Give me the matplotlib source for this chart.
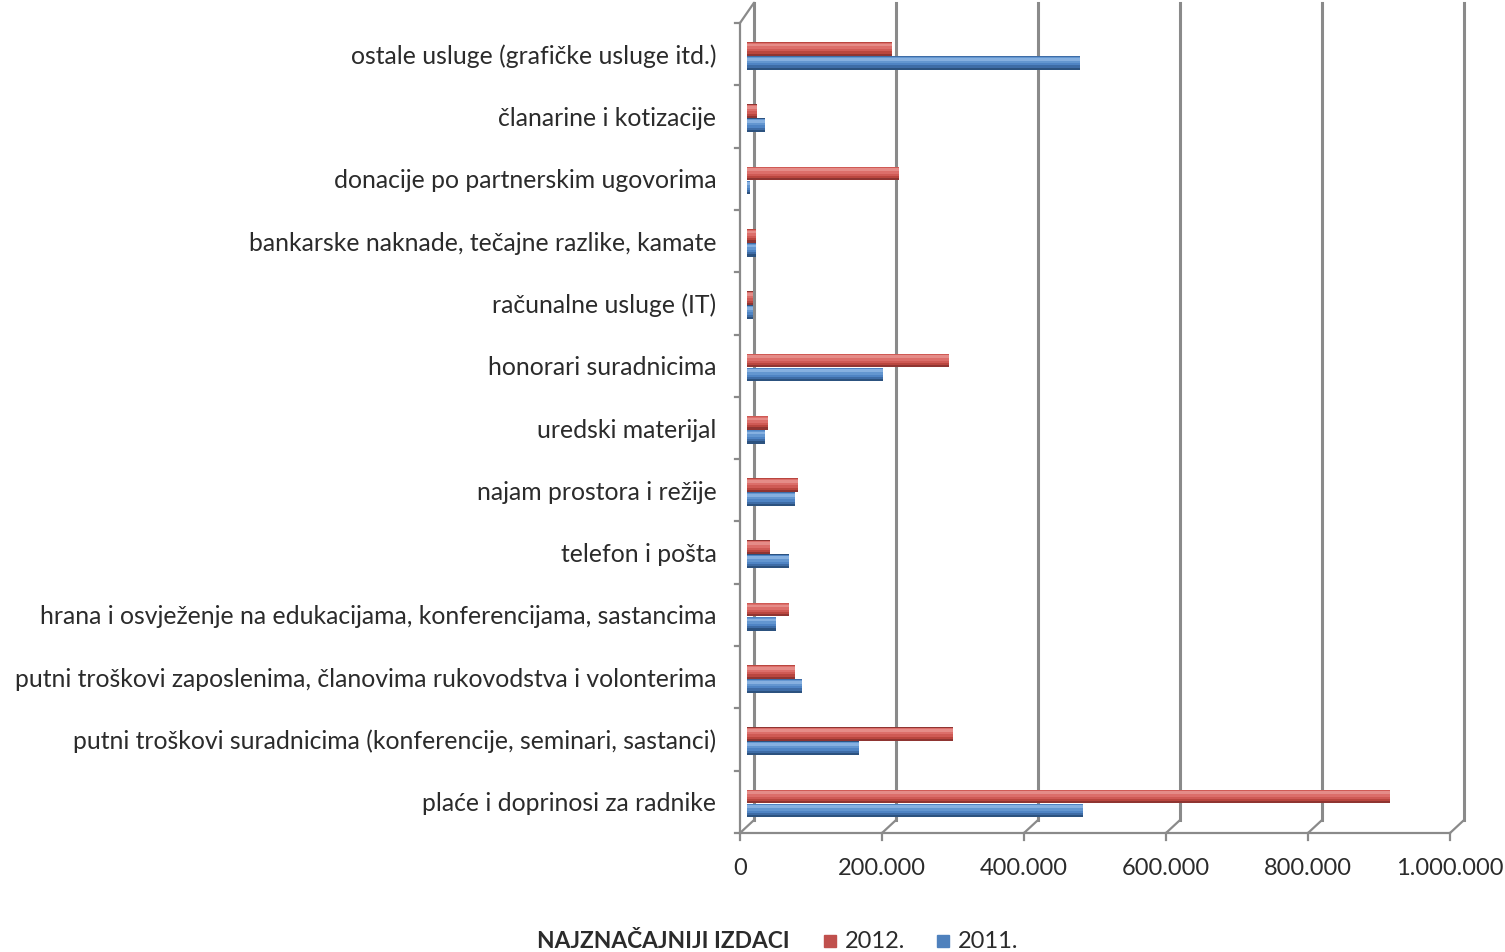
import matplotlib
matplotlib.use("Agg")
import matplotlib.pyplot as plt
import matplotlib.transforms as mtransforms

plt.rcParams['font.family'] = ['Lato', 'DejaVu Sans']

# categories listed top to bottom
categories = [
    "ostale usluge (grafičke usluge itd.)",
    "članarine i kotizacije",
    "donacije po partnerskim ugovorima",
    "bankarske naknade, tečajne razlike, kamate",
    "računalne usluge (IT)",
    "honorari suradnicima",
    "uredski materijal",
    "najam prostora i režije",
    "telefon i pošta",
    "hrana i osvježenje na edukacijama, konferencijama, sastancima",
    "putni troškovi zaposlenima, članovima rukovodstva i volonterima",
    "putni troškovi suradnicima (konferencije, seminari, sastanci)",
    "plaće i doprinosi za radnike",
]
vals_2012 = [204000, 14000, 214000, 12000, 8000, 284000, 30000, 72000, 32000, 59000, 68000, 290000, 906000]
vals_2011 = [469000, 25000, 4000, 12000, 9000, 191000, 25000, 68000, 59000, 41000, 77000, 158000, 473000]
xticks = [0, 200000, 400000, 600000, 800000, 1000000]
xtick_labels = ["0", "200.000", "400.000", "600.000", "800.000", "1.000.000"]

W, H = 1505, 952
fig = plt.figure(figsize=(W / 100, H / 100), dpi=100)
ax = fig.add_axes([747 / W, (H - 833) / H, 710 / W, 810 / H])
ax.set_xlim(0, 1000000)
ax.set_ylim(-0.5, len(categories) - 0.5)
for s in ax.spines.values():
    s.set_visible(False)

grid_c = "#8a8a8a"
txt_c = "#2b2b2b"
back = mtransforms.ScaledTranslation(7 / 100, 0, fig.dpi_scale_trans)
front = mtransforms.ScaledTranslation(-7 / 100, 0, fig.dpi_scale_trans)
bl = mtransforms.blended_transform_factory(ax.transData, ax.transAxes)

# back wall gridlines, floor diagonals and front ticks
for v in xticks:
    ax.plot([v, v], [0.016, 1.025], transform=bl + back, color=grid_c, lw=2.2,
            clip_on=False, zorder=1)
    ax.plot([v, v], [-0.009, 0], transform=bl + front, color=grid_c, lw=1.6,
            clip_on=False, zorder=1)
    ax.annotate("", xy=(v, 0.016), xytext=(v, 0), xycoords=bl + back, textcoords=bl + front,
                arrowprops=dict(arrowstyle="-", color=grid_c, lw=1.6, shrinkA=0, shrinkB=0))
# front floor and left wall
ax.plot([0, 1000000], [0, 0], transform=bl + front, color=grid_c, lw=1.6, clip_on=False)
ax.plot([0, 0], [0, 1], transform=bl + front, color=grid_c, lw=1.6, clip_on=False)
ax.annotate("", xy=(0, 1.025), xytext=(0, 1), xycoords=bl + back, textcoords=bl + front,
            arrowprops=dict(arrowstyle="-", color=grid_c, lw=1.6, shrinkA=0, shrinkB=0))
left_tick = mtransforms.ScaledTranslation(-12 / 100, 0, fig.dpi_scale_trans)
for k in range(len(categories) + 1):
    ax.plot([0, 5000], [k - 0.5, k - 0.5], transform=ax.transData + left_tick,
            color=grid_c, lw=1.6, clip_on=False)

n = len(categories)
ys = [n - 1 - i for i in range(n)]
h = 0.22
series = [
    (vals_2012, 0.085, ["#8f3532", "#b9463f", "#cf5a55", "#dc6e6a", "#e58c88"], "#c0504d", "2012."),
    (vals_2011, -0.14, ["#2c527f", "#3e6ca6", "#4f84c4", "#6396d0", "#86b0e0"], "#4f81bd", "2011."),
]
# layered bars to mimic the cylinder shading
fracs = [1.0, 0.82, 0.64, 0.44, 0.2]
shifts = [0.0, 0.015, 0.03, 0.045, 0.06]
for vals, off, shades, _, lab in series:
    yy = [y + off for y in ys]
    for f, sh, c in zip(fracs, shifts, shades):
        ax.barh([y + sh for y in yy], vals, height=h * f, color=c, zorder=3)

ax.set_yticks(ys)
ax.set_yticklabels(categories, fontsize=17.8, color=txt_c)
ax.tick_params(axis="y", length=0, pad=22)
ax.set_xticks(xticks)
ax.set_xticklabels(xtick_labels, fontsize=17, color=txt_c)
ax.tick_params(axis="x", length=0, pad=18)
for lbl in ax.get_xticklabels():
    lbl.set_transform(lbl.get_transform() + front)

# legend row at the bottom
fig.text(537 / W, 1 - 941 / H, "NAJZNAČAJNIJI IZDACI", fontsize=16.4, fontweight="bold",
         color=txt_c, va="center", ha="left")
fig.patches.append(plt.Rectangle((824 / W, 1 - 947 / H), 12 / W, 12 / H,
                                 transform=fig.transFigure, color=series[0][3]))
fig.text(845 / W, 1 - 941 / H, series[0][4], fontsize=17, color=txt_c, va="center")
fig.patches.append(plt.Rectangle((937 / W, 1 - 947 / H), 12 / W, 12 / H,
                                 transform=fig.transFigure, color=series[1][3]))
fig.text(958 / W, 1 - 941 / H, series[1][4], fontsize=17, color=txt_c, va="center")

fig.savefig("out.png", dpi=100)
